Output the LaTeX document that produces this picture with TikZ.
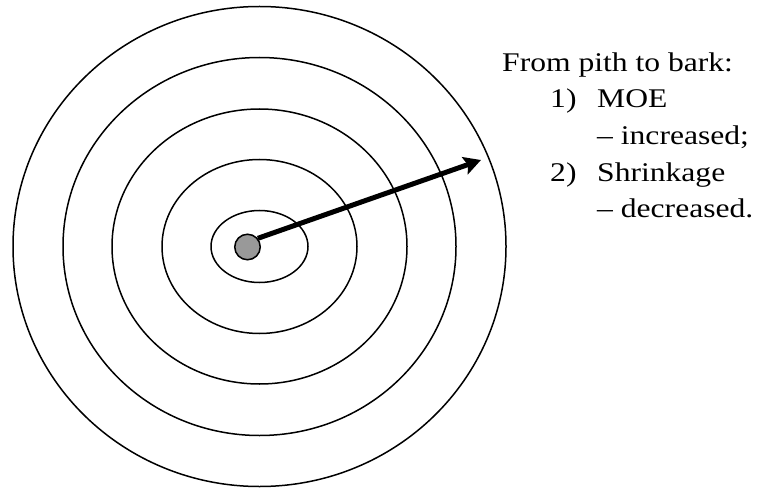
\documentclass[tikz,border=0pt]{standalone}
\usepackage{fontspec}
\setmainfont{Liberation Serif}
\newfontfamily\barkfont[Ligatures=TeX, FakeStretch=1.17]{Liberation Serif}
\usetikzlibrary{arrows.meta, positioning}
\tikzset{
  ring/.style={draw, line width=1.5pt},
  pith/.style={circle, draw, line width=1.5pt, fill=black!40, minimum size=25.5pt, inner sep=0pt},
  arr/.style={-{Stealth[length=17pt, width=18pt, inset=3pt]}, line width=5pt},
  txt/.style={anchor=base west, inner sep=0pt, font=\barkfont\fontsize{27}{36}\selectfont},
}

\begin{document}
\begin{tikzpicture}[x=1pt, y=-1pt]
    \useasboundingbox (0,0) rectangle (757,489);
    % growth rings
    \foreach \rx/\ry in {48.5/36, 97.5/87, 147.5/137.5, 196.5/189, 246.5/240}
      \draw[ring] (259.5,246.5) ellipse ({\rx} and {\ry});
    \node[pith] (core) at (247.5,247) {};
    \coordinate (bark) at (481,160);
    \draw[arr] (core.40) -- (bark);
    % text
    \node[txt] (head) at (502,72) {From pith to bark:};
    \node[txt] (n1) at (550,108) {1)};
    \node[txt] (moe) at (597,108) {MOE};
    \node[txt] (inc) at (597,145) {– increased;};
    \node[txt] (n2) at (550,182) {2)};
    \node[txt] (shr) at (597,182) {Shrinkage};
    \node[txt] (dec) at (597,218) {– decreased.};
  \end{tikzpicture}
\end{document}
